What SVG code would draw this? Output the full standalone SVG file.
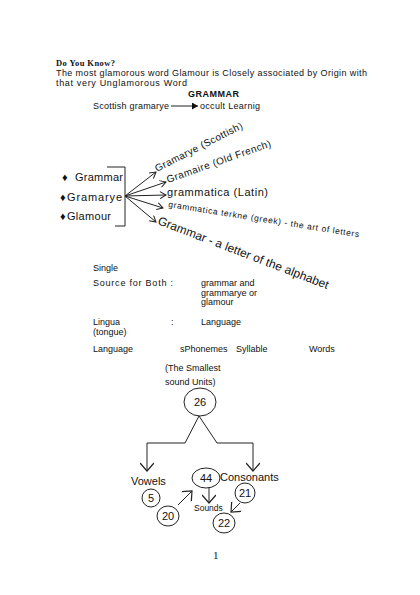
<svg xmlns="http://www.w3.org/2000/svg" width="420" height="595" viewBox="0 0 420 595">
<style>
text{font-family:"Liberation Sans",Arial,sans-serif;fill:#111}
.s9{font-size:9px}
.s11{font-size:11px}
.ln{stroke:#222;stroke-width:1;fill:none}
.nd{stroke:#222;stroke-width:1;fill:#fff}
</style>
<defs>
<marker id="open" markerWidth="8" markerHeight="8" refX="7" refY="4" orient="auto" markerUnits="userSpaceOnUse">
<path d="M1,0.5 L7,4 L1,7.5" fill="none" stroke="#222" stroke-width="1"/>
</marker>
<marker id="vee" markerWidth="14" markerHeight="14" refX="12" refY="7" orient="auto" markerUnits="userSpaceOnUse">
<path d="M4,0 L12,7 L4,14" fill="none" stroke="#222" stroke-width="1.2"/>
</marker>
<marker id="fill" markerWidth="7" markerHeight="7" refX="6" refY="3.5" orient="auto" markerUnits="userSpaceOnUse">
<path d="M0,0 L6,3.5 L0,7 Z" fill="#111"/>
</marker>
</defs>
<rect width="420" height="595" fill="#fff"/>

<g id="header">
<text x="56" y="66" style="font-family:'Liberation Serif','Times New Roman',serif;font-weight:bold;font-size:8.5px" textLength="59">Do You Know?</text>
<text class="s9" x="56" y="76" textLength="311">The most glamorous word Glamour is Closely associated by Origin with</text>
<text class="s9" x="56" y="86" textLength="131">that very Unglamorous Word</text>
<text x="188" y="97" style="font-weight:bold;font-size:9px" textLength="51">GRAMMAR</text>
<text class="s9" x="93" y="109" textLength="76">Scottish gramarye</text>
<text class="s9" x="200" y="109" textLength="60">occult Learnig</text>
</g>

<g id="sources">
<text class="s11" x="62" y="181">♦</text>
<text class="s11" x="75" y="181" textLength="48">Grammar</text>
<text class="s11" x="60" y="201">♦</text>
<text class="s11" x="67" y="201" textLength="55">Gramarye</text>
<text class="s11" x="60" y="220">♦</text>
<text class="s11" x="67" y="220" textLength="44">Glamour</text>
<path class="ln" d="M107,167 H125 V226 H115"/>
</g>

<g id="origins">
<text transform="translate(157,172) rotate(-27)" style="font-size:10px" textLength="97">Gramarye (Scottish)</text>
<text transform="translate(168,183) rotate(-19.5)" style="font-size:10px" textLength="110">Gramaire (Old French)</text>
<text class="s11" x="167" y="196" textLength="101">grammatica (Latin)</text>
<text transform="translate(168,207) rotate(9)" style="font-size:8.5px" textLength="193">grammatica terkne (greek) - the art of letters</text>
<text transform="translate(157,224) rotate(21)" style="font-size:12px" textLength="182">Grammar - a letter of the alphabet</text>
</g>

<g id="notes">
<text class="s9" x="93" y="271">Single</text>
<text class="s9" x="93" y="286" textLength="80">Source for Both :</text>
<text class="s9" x="201" y="286">grammar and</text>
<text class="s9" x="201" y="296">grammarye or</text>
<text class="s9" x="201" y="305">glamour</text>
<text class="s9" x="93" y="325">Lingua</text>
<text class="s9" x="93" y="335">(tongue)</text>
<text class="s9" x="171" y="325">:</text>
<text class="s9" x="201" y="325">Language</text>
<text class="s9" x="93" y="352">Language</text>
<text class="s9" x="180" y="352">sPhonemes</text>
<text class="s9" x="236" y="352">Syllable</text>
<text class="s9" x="309" y="352">Words</text>
<text class="s9" x="165" y="371">(The Smallest</text>
<text class="s9" x="165" y="385">sound Units)</text>
</g>

<g id="node26">
<ellipse class="nd" cx="200" cy="402" rx="16" ry="14"/>
<text x="200" y="406" text-anchor="middle" style="font-size:11px">26</text>
</g>
<g id="vowels"><text class="s11" x="131" y="485">Vowels</text></g>
<g id="node5">
<circle class="nd" cx="151" cy="498" r="9"/>
<text x="151" y="502" text-anchor="middle" style="font-size:11px">5</text>
</g>
<g id="node20">
<ellipse class="nd" cx="168" cy="516" rx="11" ry="10"/>
<text x="168" y="520" text-anchor="middle" style="font-size:11px">20</text>
</g>
<g id="node44">
<ellipse class="nd" cx="206" cy="478" rx="14" ry="10"/>
<text x="206" y="482" text-anchor="middle" style="font-size:11px">44</text>
</g>
<g id="consonants"><text class="s11" x="220" y="481">Consonants</text></g>
<g id="sounds"><text x="194" y="511" style="font-size:8.5px">Sounds</text></g>
<g id="node21">
<circle class="nd" cx="245" cy="493" r="10"/>
<text x="245" y="497" text-anchor="middle" style="font-size:11px">21</text>
</g>
<g id="node22">
<ellipse class="nd" cx="224" cy="523" rx="11" ry="10"/>
<text x="224" y="527" text-anchor="middle" style="font-size:11px">22</text>
</g>

<g id="connectors">
<line class="ln" x1="171" y1="106" x2="198" y2="106" marker-end="url(#fill)"/>
<line class="ln" x1="125" y1="196" x2="156" y2="172" marker-end="url(#open)"/>
<line class="ln" x1="125" y1="196" x2="166" y2="182" marker-end="url(#open)"/>
<line class="ln" x1="125" y1="196" x2="166" y2="195" marker-end="url(#open)"/>
<line class="ln" x1="125" y1="196" x2="163" y2="208" marker-end="url(#open)"/>
<line class="ln" x1="125" y1="196" x2="156" y2="222" marker-end="url(#open)"/>
<path class="ln" d="M199,416 L185,443 H147 V471" marker-end="url(#vee)"/>
<path class="ln" d="M199,416 L217,443 H253 V471" marker-end="url(#vee)"/>
<line class="ln" x1="178" y1="505" x2="192" y2="491" marker-end="url(#vee)"/>
<line class="ln" x1="209" y1="488" x2="209" y2="503" marker-end="url(#vee)"/>
<line class="ln" x1="240" y1="503" x2="231" y2="512" marker-end="url(#vee)"/>
</g>

<text x="213" y="559" style="font-family:'Liberation Serif','Times New Roman',serif;font-size:11px">1</text>
</svg>
